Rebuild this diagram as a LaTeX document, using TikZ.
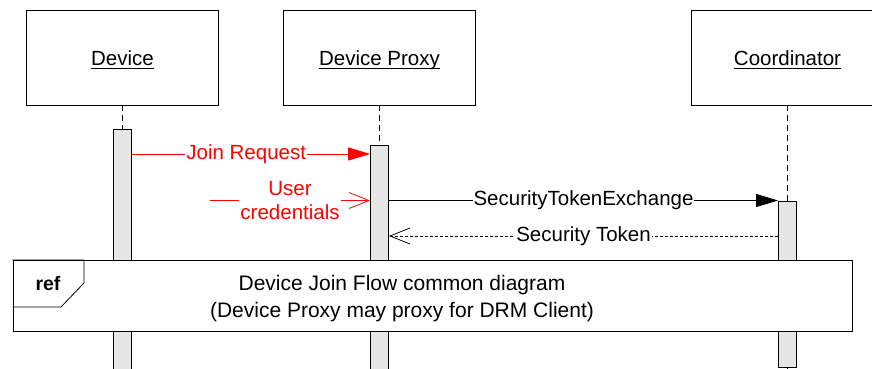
\documentclass[tikz,border=0pt]{standalone}
\usepackage{fontspec}
\setmainfont{Liberation Sans}
\usetikzlibrary{arrows.meta,positioning,calc}
\definecolor{barfill}{RGB}{230,230,230}
\newcommand{\ulabel}[1]{\setbox0=\hbox{#1}\makebox[0pt][l]{\rule[-4pt]{\wd0}{0.9pt}}\box0}
\tikzset{
	lifebox/.style={draw,line width=0.8pt,minimum width=192pt,minimum height=95pt,text height=15pt,text depth=0pt,font=\fontsize{20.5}{24}\selectfont},
	actbar/.style={draw,line width=0.8pt,fill=barfill,minimum width=18pt,anchor=north,inner sep=0pt},
	lifeline/.style={dash pattern=on 6pt off 4pt,line width=0.8pt},
	msglabel/.style={fill=white,inner xsep=1pt,inner ysep=2pt,font=\fontsize{20.5}{24}\selectfont},
	synch/.style={-{Triangle[length=22pt,width=13pt]},line width=0.8pt},
	reply/.style={-{Straight Barb[length=20pt,width=16pt]},line width=0.8pt}
}
\begin{document}
\begin{tikzpicture}[x=1pt,y=-1pt]
		\clip (0,0) rectangle (872,369);
		\node[lifebox] (device) at (122.5,57.5) {\ulabel{Device}};
		\node[lifebox] (proxy) at (379.5,57.5) {\ulabel{Device Proxy}};
		\node[lifebox] (coord) at (787.5,57.5) {\ulabel{Coordinator}};
		\node[actbar,minimum height=260pt] (devbar) at (122.5,129) {};
		\node[actbar,minimum height=245pt] (proxybar) at (379.5,145) {};
		\node[actbar,minimum height=166.5pt] (coordbar) at (787.5,200.5) {};
		\draw[lifeline] (device.south) -- (devbar.north);
		\draw[lifeline] (proxy.south) -- (proxybar.north);
		\draw[lifeline] (coord.south) -- (coordbar.north);
		\draw[line width=0.8pt] (coordbar.south) -- ++(0,10);
		\node[draw,line width=0.8pt,fill=white,minimum width=839.5pt,minimum height=71pt,anchor=north west,inner sep=0pt] (refframe) at (12.5,260) {};
		\draw[line width=0.8pt] (refframe.north west) -| (84,283) -- (61,307) -- (refframe.north west |- 0,307);
		\node[font=\bfseries\fontsize{19.5}{22}\selectfont] (reftag) at (48,284) {ref};
		\node[font=\fontsize{21}{27}\selectfont,align=center] (refdesc) at (402,299) {Device Join Flow common diagram\\(Device Proxy may proxy for DRM Client)};
		\draw[synch,red] (devbar.east |- 0,154) -- node[msglabel,text=red,pos=0.48] (joinlbl) {Join Request} (proxybar.west |- 0,154);
		\coordinate (credsrc) at (210,200.5);
		\draw[reply,red] (credsrc) -- node[msglabel,text=red,align=center] (credlbl) {User\\credentials} (proxybar.west |- credsrc);
		\draw[synch] (proxybar.east |- 0,200.5) -- node[msglabel] (stelbl) {SecurityTokenExchange} (coordbar.west |- 0,200.5);
		\draw[reply,dash pattern=on 3pt off 2pt] (coordbar.west |- 0,236) -- node[msglabel] (stlbl) {Security Token} (proxybar.east |- 0,236);
\end{tikzpicture}
\end{document}
